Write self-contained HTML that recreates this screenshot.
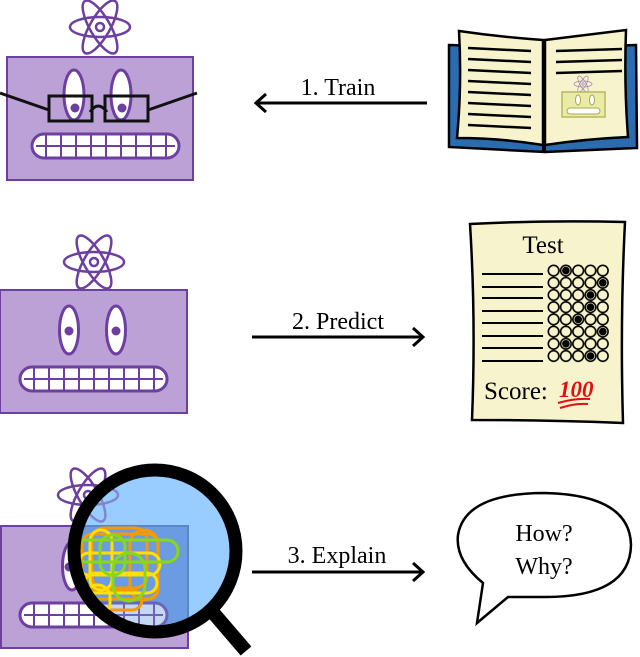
<!DOCTYPE html>
<html><head><meta charset="utf-8"><style>html,body{margin:0;padding:0;background:#fff}svg{display:block}</style></head>
<body>
<svg width="640" height="657" viewBox="0 0 640 657" xmlns="http://www.w3.org/2000/svg" font-family="Liberation Serif, serif">
<defs>
<g id="atom" fill="none" stroke="#6d3fa0" stroke-width="2.5">
<ellipse rx="30" ry="10"/>
<ellipse rx="30" ry="10" transform="rotate(60)"/>
<ellipse rx="30" ry="10" transform="rotate(-60)"/>
<circle r="4"/>
</g>
<g id="mouth" stroke="#6d3fa0">
<rect x="20" y="77" width="147" height="24" rx="12" fill="#fff" stroke-width="3"/>
<path d="M24 89H163M34 78V100M49 78V100M64 78V100M79 78V100M94 78V100M109 78V100M124 78V100M139 78V100M154 78V100" stroke-width="2"/>
</g>
<pattern id="dots" x="547.5" y="264.5" width="12.3" height="12.2" patternUnits="userSpaceOnUse">
<circle cx="6.1" cy="6.1" r="5.3" fill="none" stroke="#000" stroke-width="1.6"/>
</pattern>
<clipPath id="lens"><circle cx="155" cy="551" r="80"/></clipPath>
</defs>

<use href="#atom" x="100" y="27"/>
<g transform="translate(7,57)">
<rect x="0" y="0" width="186" height="123" fill="#bca1d6" stroke="#6d3fa0" stroke-width="2"/>
<ellipse cx="67" cy="38" rx="10" ry="25" fill="#fff" stroke="#6d3fa0" stroke-width="3"/>
<ellipse cx="114" cy="38" rx="10" ry="25" fill="#fff" stroke="#6d3fa0" stroke-width="3"/>
<circle cx="68" cy="51" r="4.5" fill="#6d3fa0"/>
<circle cx="115" cy="51" r="4.5" fill="#6d3fa0"/>
<g transform="translate(5,0)"><use href="#mouth"/></g>
</g>
<g fill="none" stroke="#111" stroke-width="3">
<rect x="49" y="96" width="43" height="25"/>
<rect x="105" y="96" width="43" height="25"/>
<path d="M0 93L49 110M148 110L197 93M90 112Q98 100 107 112"/>
</g>

<use href="#atom" x="94" y="262"/>
<g transform="translate(0,290)">
<rect x="0" y="0" width="187" height="123" fill="#bca1d6" stroke="#6d3fa0" stroke-width="2"/>
<ellipse cx="69" cy="40" rx="9.5" ry="24" fill="#fff" stroke="#6d3fa0" stroke-width="3"/>
<ellipse cx="116" cy="40" rx="9.5" ry="24" fill="#fff" stroke="#6d3fa0" stroke-width="3"/>
<circle cx="69" cy="41" r="4.5" fill="#6d3fa0"/>
<circle cx="116" cy="41" r="4.5" fill="#6d3fa0"/>
<use href="#mouth"/>
</g>

<use href="#atom" x="88" y="495"/>
<g transform="translate(0,526)">
<rect x="1" y="0" width="187" height="122" fill="#bca1d6" stroke="#6d3fa0" stroke-width="2"/>
<ellipse cx="72" cy="40" rx="9.5" ry="24" fill="#fff" stroke="#6d3fa0" stroke-width="3"/>
<circle cx="69" cy="41" r="4.5" fill="#6d3fa0"/>
<use href="#mouth"/>
</g>
<g clip-path="url(#lens)">
<rect x="60" y="460" width="200" height="190" fill="#99ccff"/>
<use href="#atom" x="88" y="495" opacity="0.5"/>
<rect x="80" y="526" width="108" height="122" fill="#6b9be0" stroke="#5a85c8" stroke-width="2"/>
<g transform="translate(0,526)" opacity="0.6"><use href="#mouth"/></g>
<g fill="none" stroke-width="3">
<rect x="82" y="534" width="76" height="65" rx="10" stroke="#f59a00"/>
<rect x="92" y="528" width="55" height="60" rx="12" stroke="#f59a00"/>
<rect x="130" y="530" width="28" height="70" rx="14" stroke="#f59a00"/>
<rect x="84" y="590" width="58" height="20" rx="10" stroke="#f59a00"/>
<rect x="90" y="530" width="22" height="60" rx="11" stroke="#ffe000"/>
<rect x="78" y="553" width="82" height="22" rx="11" stroke="#ffe000"/>
<rect x="85" y="573" width="72" height="20" rx="10" stroke="#ffe000"/>
<rect x="85" y="585" width="25" height="30" rx="12" stroke="#ffe000"/>
<rect x="75" y="540" width="103" height="22" rx="11" stroke="#88d81a"/>
<rect x="100" y="535" width="25" height="40" rx="12" stroke="#88d81a"/>
<rect x="113" y="553" width="32" height="48" rx="16" stroke="#88d81a"/>
</g>
</g>
<circle cx="155" cy="551" r="81" fill="none" stroke="#000" stroke-width="13"/>
<line x1="210" y1="609" x2="246" y2="651" stroke="#000" stroke-width="14"/>

<g stroke="#000" stroke-width="3" fill="none">
<path d="M427 103H256M266 94L256 103L266 112"/>
<path d="M252 337H423M413 328L423 337L413 346"/>
<path d="M252 572H423M413 563L423 572L413 581"/>
</g>
<g font-size="24" fill="#000" text-anchor="middle">
<text x="338" y="95">1. Train</text>
<text x="338" y="329">2. Predict</text>
<text x="337" y="563">3. Explain</text>
</g>

<path d="M449 45L545 48L636 45L637 148L545 152L449 147Z" fill="#2b6cb0" stroke="#000" stroke-width="2.5"/>
<path d="M459 31Q500 37 543 40L543 145Q500 138 457 138Q462 85 459 31Z" fill="#f7f3cc" stroke="#000" stroke-width="2.5"/>
<path d="M545 40Q585 35 626 30Q624 85 628 137Q585 139 545 145Z" fill="#f7f3cc" stroke="#000" stroke-width="2.5"/>
<line x1="544" y1="40" x2="544" y2="152" stroke="#000" stroke-width="4"/>
<g stroke="#000" stroke-width="2.5">
<path d="M468 48L531 51M468 59L531 62M468 70L531 73M468 81L531 84M468 92L531 95M468 103L531 106M468 114L531 117M468 125L531 128"/>
<path d="M556 51L622 49M556 62L622 60M556 73L622 71"/>
</g>
<g transform="translate(583,84) scale(0.3)" opacity="0.6"><use href="#atom"/></g>
<rect x="562" y="92" width="43" height="25" fill="#ebeba8" stroke="#b8b860" stroke-width="1.5"/>
<ellipse cx="578" cy="100" rx="2.5" ry="5" fill="#fff" stroke="#a8a850"/>
<ellipse cx="592" cy="100" rx="2.5" ry="5" fill="#fff" stroke="#a8a850"/>
<rect x="567" y="108" width="33" height="6" rx="3" fill="#fff" stroke="#a8a850"/>

<path d="M470 224Q548 220 625 222Q620 320 623 423Q548 420 472 420Q476 320 470 224Z" fill="#f7f3cc" stroke="#000" stroke-width="2.5"/>
<text x="543" y="253" font-size="25" text-anchor="middle">Test</text>
<g stroke="#000" stroke-width="2">
<path d="M482 274H543M482 287H543M482 298H543M482 311H543M482 323H543M482 336H543M482 348H543M482 361H543"/>
</g>
<rect x="547.5" y="264.5" width="61.5" height="97.6" fill="url(#dots)"/>
<g fill="#000">
<circle cx="565.9" cy="270.6" r="3.8"/><circle cx="602.8" cy="282.8" r="3.8"/>
<circle cx="590.5" cy="295" r="3.8"/><circle cx="590.5" cy="307.2" r="3.8"/>
<circle cx="578.2" cy="319.4" r="3.8"/><circle cx="602.8" cy="331.6" r="3.8"/>
<circle cx="565.9" cy="343.8" r="3.8"/><circle cx="590.5" cy="356" r="3.8"/>
</g>
<text x="484" y="399" font-size="25">Score:</text>
<text x="559" y="397" font-size="23" font-style="italic" font-weight="bold" fill="#e01010">100</text>
<path d="M558 403Q575 398 590 399M560 408Q575 403 588 404" stroke="#e01010" stroke-width="2" fill="none"/>

<path d="M483 583Q455 560 458 535Q465 493 545 493Q630 495 631 545Q630 597 545 597Q525 597 508 597L477 623Z" fill="#fff" stroke="#000" stroke-width="2.5"/>
<g font-size="24" text-anchor="middle"><text x="544" y="541">How?</text><text x="544" y="574">Why?</text></g>
</svg>
</body></html>
